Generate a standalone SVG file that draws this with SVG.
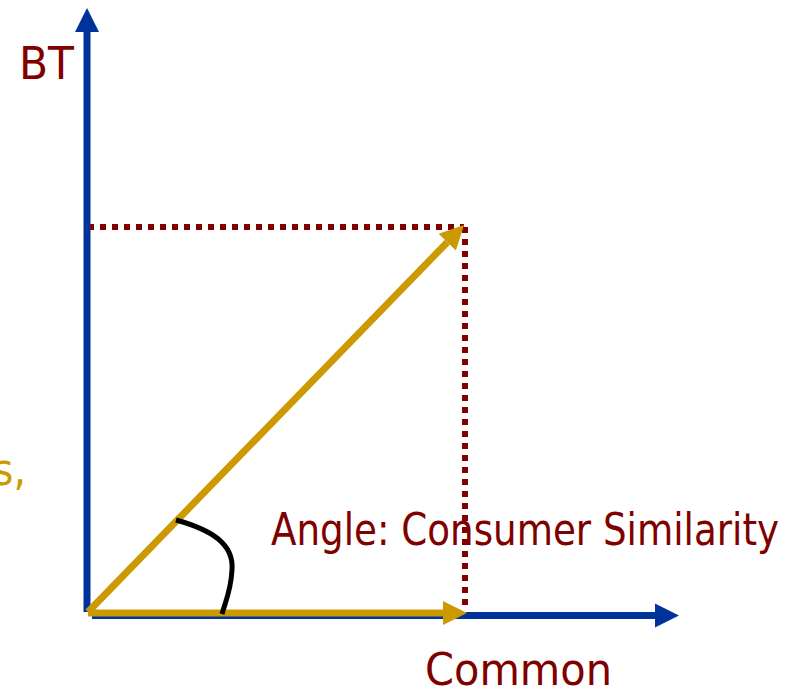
<svg xmlns="http://www.w3.org/2000/svg" width="796" height="688" viewBox="0 0 796 688">
<style>
.lbl{font-family:"DejaVu Sans Condensed","DejaVu Sans",sans-serif;font-size:44px;}
.red{fill:#800000;}
.gold{fill:#CC9900;}
.axis{stroke:#003399;stroke-width:7;fill:none;}
.vec{stroke:#CC9900;stroke-width:7;fill:none;}
.dot{stroke:#800000;stroke-width:6;stroke-dasharray:6 6;fill:none;}
</style>
<defs>
<marker id="ab" markerUnits="userSpaceOnUse" markerWidth="24" markerHeight="24" refX="0" refY="12" orient="auto" overflow="visible"><path d="M0,0 L24,12 L0,24 z" fill="#003399"/></marker>
<marker id="ag" markerUnits="userSpaceOnUse" markerWidth="24" markerHeight="24" refX="0" refY="12" orient="auto" overflow="visible"><path d="M0,0 L24,12 L0,24 z" fill="#CC9900"/></marker>
</defs>
<g id="connectors">
<line id="guide-h" class="dot" x1="88" y1="227" x2="464" y2="227"/>
<line id="guide-v" class="dot" x1="465" y1="227" x2="465" y2="606"/>
<line id="axis-y" class="axis" x1="87" y1="612" x2="87" y2="32" marker-end="url(#ab)"/>
<line id="axis-x" class="axis" x1="92" y1="615.5" x2="655" y2="615.5" marker-end="url(#ab)"/>
<line id="vec-h" class="vec" x1="88" y1="613" x2="443" y2="613" marker-end="url(#ag)"/>
<line id="vec-d" class="vec" x1="88" y1="612" x2="447.3" y2="242.2" marker-end="url(#ag)"/>
<path id="angle-arc" d="M176,520 C212,530 234,544 232,570 C231,590 226,600 222,614" stroke="#000" stroke-width="5" fill="none"/>
</g>
<g id="label-bt"><text class="lbl red" x="19" y="79" textLength="55" lengthAdjust="spacingAndGlyphs">BT</text></g>
<g id="label-common"><text class="lbl red" x="425" y="685" textLength="187" lengthAdjust="spacingAndGlyphs">Common</text></g>
<g id="label-angle"><text class="lbl red" x="271" y="545" textLength="508" lengthAdjust="spacingAndGlyphs">Angle: Consumer Similarity</text></g>
<g id="label-left"><text class="lbl gold" x="26" y="485" text-anchor="end">s,</text></g>
</svg>
